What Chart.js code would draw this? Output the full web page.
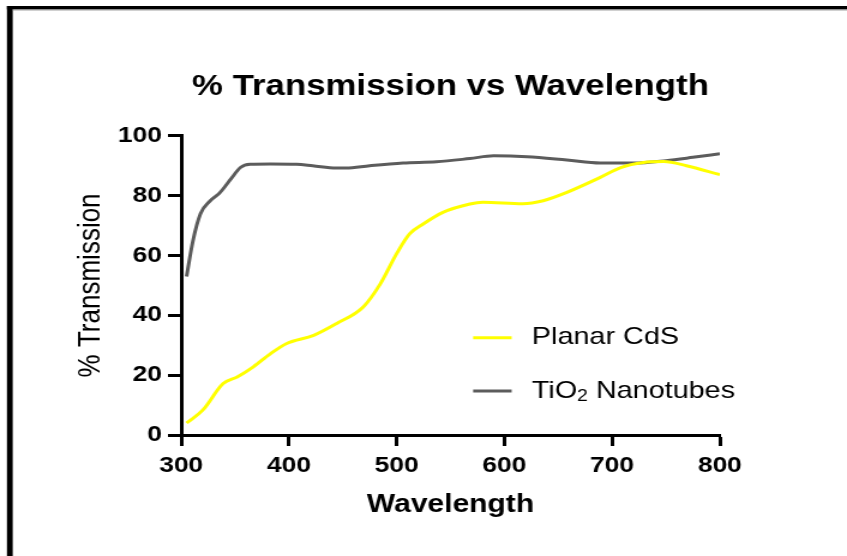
<!DOCTYPE html>
<html>
<head>
<meta charset="utf-8">
<title>% Transmission vs Wavelength</title>
<script src="https://cdn.jsdelivr.net/npm/chart.js@4.4.1/dist/chart.umd.min.js"></script>
<style>
    html, body { margin: 0; padding: 0; background: #fff; }
    #transChart { display: block; }
</style>
</head>
<body>
<!-- the original figure is stretched sideways, so the canvas is drawn narrow and shown at full width -->
<canvas id="transChart" width="706" height="556" style="width:847px;height:556px"></canvas>
<script>
// Planar CdS
const cdsWavelength = [305, 320, 339, 352, 367, 383, 398, 423, 444, 469, 485, 500, 512, 525, 543, 568, 580, 617, 636, 658, 689, 708, 729, 748, 769, 800];
const cdsTransmission = [4, 8.3, 17.2, 19.4, 22.8, 27.2, 30.6, 33.3, 37.2, 42.8, 50.6, 60.6, 67.2, 70.6, 74.4, 77.2, 77.8, 77.3, 78.3, 81.1, 86.1, 89.4, 91.1, 91.4, 90, 87];

// TiO2 nanotubes
const tioWavelength = [305, 311, 318, 327, 336, 346, 355, 364, 383, 407, 422, 444, 453, 475, 506, 537, 568, 590, 621, 658, 689, 720, 750, 775, 800];
const tioTransmission = [53, 65, 74, 78.3, 81, 85.5, 89.4, 90.5, 90.6, 90.5, 90, 89.2, 89.2, 90, 90.9, 91.3, 92.4, 93.3, 93, 91.9, 90.9, 90.9, 91.7, 92.8, 94];

const xTicks = [300, 400, 500, 600, 700, 800];
const yTicks = [0, 20, 40, 60, 80, 100];

const cdsColor = '#FFFF00';
const tioColor = '#5c5c5c';
const fontFamily = "'Liberation Sans', Arial, Helvetica, sans-serif";

const toPoints = (xs, ys) => xs.map((x, i) => ({ x: x, y: ys[i] }));

// black frame along the top and left edge of the figure
const framePlugin = {
    id: 'frame',
    beforeDraw(chart) {
        const ctx = chart.ctx;
        ctx.save();
        ctx.fillStyle = '#fff';
        ctx.fillRect(0, 0, chart.width, chart.height);
        ctx.fillStyle = '#000';
        ctx.fillRect(5.8, 6, chart.width, 3.4);
        ctx.fillRect(5.8, 6, 4.8, chart.height);
        ctx.fillStyle = '#8a8a8a';
        ctx.fillRect(10.6, 9.4, chart.width, 1);
        ctx.restore();
    }
};

// legend sits inside the plot, with a subscript in TiO2
const legendPlugin = {
    id: 'insideLegend',
    afterDatasetsDraw(chart) {
        const { ctx, chartArea: a } = chart;
        const w = a.right - a.left;
        const h = a.bottom - a.top;
        const lineStart = a.left + w * 0.542;
        const lineEnd = a.left + w * 0.6135;
        const textX = a.left + w * 0.651;
        const rows = [
            { y: a.top + h * 0.675, color: cdsColor, parts: [['Planar CdS', 0]] },
            { y: a.top + h * 0.853, color: tioColor, parts: [['TiO', 0], ['2', 1], [' Nanotubes', 0]] }
        ];
        ctx.save();
        rows.forEach(row => {
            ctx.strokeStyle = row.color;
            ctx.lineWidth = 3;
            ctx.beginPath();
            ctx.moveTo(lineStart, row.y);
            ctx.lineTo(lineEnd, row.y);
            ctx.stroke();

            let x = textX;
            ctx.fillStyle = '#000';
            ctx.textBaseline = 'middle';
            ctx.textAlign = 'left';
            row.parts.forEach(([txt, isSub]) => {
                ctx.font = (isSub ? '16px ' : '24px ') + fontFamily;
                ctx.fillText(txt, x, row.y + (isSub ? 6 : 0));
                x += ctx.measureText(txt).width;
            });
        });
        ctx.restore();
    }
};

new Chart(document.getElementById('transChart'), {
    type: 'line',
    data: {
        datasets: [{
            label: 'Planar CdS',
            data: toPoints(cdsWavelength, cdsTransmission),
            borderColor: cdsColor,
            borderWidth: 3,
            pointRadius: 0,
            cubicInterpolationMode: 'monotone',
            fill: false
        }, {
            label: 'TiO2 Nanotubes',
            data: toPoints(tioWavelength, tioTransmission),
            borderColor: tioColor,
            borderWidth: 3,
            pointRadius: 0,
            cubicInterpolationMode: 'monotone',
            fill: false
        }]
    },
    options: {
        responsive: false,
        devicePixelRatio: 1,
        animation: false,
        layout: {
            padding: { left: 50, right: 106, top: 0, bottom: 21 }
        },
        plugins: {
            legend: { display: false },
            tooltip: { enabled: false },
            title: {
                display: true,
                fullSize: false,
                text: '% Transmission vs Wavelength',
                color: '#000',
                font: { family: fontFamily, size: 29, weight: 'bold' },
                padding: { top: 70, bottom: 31 }
            }
        },
        scales: {
            x: {
                type: 'linear',
                min: 300,
                max: 800,
                afterFit: scale => { scale.height = 100; },
                afterBuildTicks: scale => { scale.ticks = xTicks.map(v => ({ value: v })); },
                border: { display: true, color: '#000', width: 3 },
                grid: { drawOnChartArea: false, drawTicks: true, tickLength: 11, tickWidth: 3, tickColor: '#000' },
                ticks: {
                    color: '#000',
                    padding: 7,
                    font: { family: fontFamily, size: 22, weight: 'bold' }
                },
                title: {
                    display: true,
                    text: 'Wavelength',
                    color: '#000',
                    font: { family: fontFamily, size: 25, weight: 'bold' },
                    padding: { top: 0, bottom: 15 }
                }
            },
            y: {
                min: 0,
                max: 100,
                afterFit: scale => { scale.width = 101; },
                afterBuildTicks: scale => { scale.ticks = yTicks.map(v => ({ value: v })); },
                border: { display: true, color: '#000', width: 3 },
                grid: { drawOnChartArea: false, drawTicks: true, tickLength: 11, tickWidth: 3, tickColor: '#000' },
                ticks: {
                    color: '#000',
                    padding: 5,
                    font: { family: fontFamily, size: 22, weight: 'bold' }
                },
                title: {
                    display: true,
                    text: '% Transmission',
                    color: '#000',
                    font: { family: fontFamily, size: 26 },
                    padding: { top: 10, bottom: 0 }
                }
            }
        }
    },
    plugins: [framePlugin, legendPlugin]
});
</script>
</body>
</html>
